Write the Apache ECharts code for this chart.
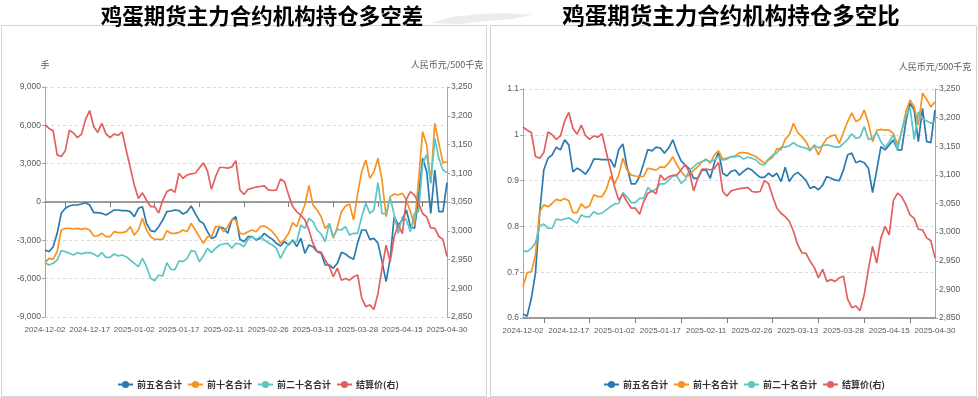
<!DOCTYPE html>
<html><head><meta charset="utf-8">
<script src="https://cdn.jsdelivr.net/npm/echarts@6/dist/echarts.min.js"></script>
<style>html,body{margin:0;padding:0;background:#fff}#c{width:978px;height:397px}</style>
</head><body><div id="c"></div>
<script>
const dates = [
'2024-12-02','2024-12-03','2024-12-04','2024-12-05','2024-12-06','2024-12-09','2024-12-10','2024-12-11','2024-12-12','2024-12-13',
'2024-12-16','2024-12-17','2024-12-18','2024-12-19','2024-12-20','2024-12-23','2024-12-24','2024-12-25','2024-12-26','2024-12-27',
'2024-12-30','2024-12-31','2025-01-02','2025-01-03','2025-01-06','2025-01-07','2025-01-08','2025-01-09','2025-01-10','2025-01-13',
'2025-01-14','2025-01-15','2025-01-16','2025-01-17','2025-01-20','2025-01-21','2025-01-22','2025-01-23','2025-01-24','2025-01-27',
'2025-02-05','2025-02-06','2025-02-07','2025-02-10','2025-02-11','2025-02-12','2025-02-13','2025-02-14','2025-02-17','2025-02-18',
'2025-02-19','2025-02-20','2025-02-21','2025-02-24','2025-02-25','2025-02-26','2025-02-27','2025-02-28','2025-03-03','2025-03-04',
'2025-03-05','2025-03-06','2025-03-07','2025-03-10','2025-03-11','2025-03-12','2025-03-13','2025-03-14','2025-03-17','2025-03-18',
'2025-03-19','2025-03-20','2025-03-21','2025-03-24','2025-03-25','2025-03-26','2025-03-27','2025-03-28','2025-03-31','2025-04-01',
'2025-04-02','2025-04-03','2025-04-07','2025-04-08','2025-04-09','2025-04-10','2025-04-11','2025-04-14','2025-04-15','2025-04-16',
'2025-04-17','2025-04-18','2025-04-21','2025-04-22','2025-04-23','2025-04-24','2025-04-25','2025-04-28','2025-04-29','2025-04-30'];

const seriesNames = ['前五名合计','前十名合计','前二十名合计','结算价(右)'];

// 结算价 (shared by both panels), 元/500千克
const settle = [3184,3178,3174,3132,3129,3139,3175,3170,3162,3168,3194,3209,3181,3171,3187,3169,3162,3168,3166,3172,
3140,3110,3079,3056,3066,3053,3042,3042,3031,3053,3068,3072,3067,3100,3091,3097,3099,3100,3109,3118,
3104,3072,3094,3110,3110,3109,3111,3122,3071,3063,3072,3074,3076,3077,3078,3071,3070,3071,3090,3085,
3062,3042,3033,3027,3019,3001,2978,2964,2963,2949,2938,2920,2935,2914,2917,2914,2920,2923,2883,2868,
2871,2863,2891,2935,2975,2946,2990,3010,2995,3055,3068,3062,3048,3030,3024,3005,3004,2990,2985,2955];

// 多空差 (手)
const netTop5 = [-3757,-3890,-3500,-2450,-885,-495,-313,-235,-235,-157,-60,-235,-834,-834,-885,-1017,-834,-626,-626,-678,
-678,-756,-1148,-495,-365,-1670,-2244,-2322,-1930,-1409,-756,-704,-626,-678,-939,-756,-313,-885,-1461,-1670,
-2322,-2844,-2713,-1930,-2061,-2452,-1409,-1148,-2922,-3105,-2713,-2713,-2974,-2844,-2452,-2713,-2922,-3235,-3443,-3105,
-3365,-2974,-3496,-2844,-4017,-3365,-3496,-3887,-4017,-4930,-4930,-5190,-4800,-3939,-4070,-4330,-4487,-3183,-2191,-2191,
-2922,-2844,-3235,-4670,-6235,-4409,-1148,-1800,-1409,-626,-1930,-2061,418,3417,2374,-885,2504,-756,-756,1513];
const netTop10 = [-4748,-4409,-4487,-3887,-2191,-2061,-2061,-2113,-2061,-2139,-2061,-2191,-2661,-2661,-2452,-2713,-2713,-2322,-2400,-2400,
-2322,-1930,-2583,-2191,-1278,-2191,-2713,-2922,-2922,-2922,-2244,-2452,-2450,-2380,-2191,-2322,-1670,-2191,-2713,-3235,
-2713,-2713,-1930,-1930,-2322,-1930,-1357,-1409,-2452,-2504,-2322,-2191,-2322,-1930,-1878,-2061,-2322,-2713,-3235,-2922,
-2452,-1617,-1930,-1017,-235,1300,-235,-626,-1148,-2061,-1722,-2844,-1930,-756,-313,-157,-1409,678,2374,3287,
1852,2374,3417,1722,-1148,418,626,548,678,157,-756,-1800,1722,5504,4461,1500,6157,4591,3079,3130];
const netTop20 = [-4748,-4930,-4800,-4539,-3809,-3887,-4017,-4148,-3965,-4070,-3965,-3965,-4070,-4278,-3965,-4330,-4330,-4070,-4226,-4148,
-4278,-4539,-4800,-5061,-4409,-5061,-5974,-6157,-5713,-5800,-4748,-5270,-5300,-4600,-4670,-4409,-3809,-3887,-4670,-4226,
-3626,-3965,-3626,-3365,-3287,-3235,-3626,-3235,-3287,-3496,-2922,-2713,-2922,-2713,-2974,-3183,-3365,-3626,-4409,-3757,
-3235,-3105,-3105,-1800,-2061,-1278,-1539,-2191,-2504,-3105,-1670,-2713,-2139,-2191,-1930,-2583,-2452,-2452,-1148,-104,
-885,-626,1513,-885,-939,365,-1017,-2452,-1148,-1409,-2322,-885,-756,3000,3730,1461,4983,3400,2504,2300];

// 多空比
const ratioTop5 = [0.609,0.604,0.643,0.698,0.829,0.923,0.949,0.956,0.973,0.967,0.989,0.978,0.919,0.927,0.922,0.914,0.927,0.947,0.947,0.946,
0.946,0.946,0.929,0.968,0.980,0.930,0.893,0.893,0.909,0.938,0.968,0.965,0.973,0.971,0.960,0.971,0.989,0.963,0.943,0.934,
0.925,0.905,0.905,0.923,0.923,0.905,0.939,0.963,0.916,0.910,0.920,0.923,0.912,0.920,0.927,0.923,0.914,0.907,0.907,0.916,
0.909,0.916,0.898,0.929,0.898,0.912,0.918,0.910,0.900,0.883,0.887,0.880,0.890,0.909,0.905,0.901,0.900,0.923,0.956,0.960,
0.939,0.943,0.939,0.927,0.874,0.923,0.974,0.967,0.978,0.989,0.967,0.967,1.029,1.069,1.054,0.985,1.058,0.985,0.983,1.054];
const ratioTop10 = [0.668,0.699,0.701,0.738,0.832,0.847,0.843,0.850,0.859,0.856,0.861,0.856,0.830,0.830,0.849,0.840,0.845,0.869,0.865,0.865,
0.880,0.909,0.893,0.912,0.949,0.923,0.912,0.910,0.909,0.909,0.927,0.925,0.923,0.930,0.929,0.938,0.952,0.934,0.920,0.909,
0.912,0.923,0.930,0.941,0.947,0.938,0.956,0.965,0.947,0.949,0.952,0.954,0.961,0.961,0.960,0.956,0.952,0.945,0.938,0.945,
0.951,0.970,0.967,0.990,1.000,1.025,1.005,0.996,0.985,0.967,0.976,0.956,0.978,0.992,0.997,1.000,0.981,1.005,1.029,1.048,
1.029,1.034,1.054,1.025,0.985,1.010,1.012,1.010,1.010,1.003,0.978,1.007,1.050,1.076,1.061,1.021,1.091,1.077,1.061,1.072];
const ratioTop20 = [0.747,0.745,0.752,0.764,0.801,0.805,0.796,0.796,0.816,0.814,0.816,0.819,0.813,0.807,0.825,0.821,0.821,0.832,0.827,0.829,
0.836,0.843,0.849,0.850,0.874,0.864,0.852,0.852,0.861,0.861,0.885,0.876,0.882,0.893,0.893,0.901,0.910,0.910,0.894,0.902,
0.923,0.930,0.938,0.941,0.945,0.941,0.945,0.952,0.945,0.947,0.952,0.952,0.954,0.947,0.951,0.949,0.945,0.936,0.934,0.947,
0.956,0.960,0.973,0.973,0.976,0.983,0.976,0.973,0.971,0.965,0.978,0.971,0.976,0.978,0.976,0.973,0.973,0.981,0.990,1.002,
0.992,0.995,1.018,0.990,0.992,1.005,0.985,0.973,0.985,1.000,0.967,1.010,1.040,1.060,0.990,1.050,1.035,1.030,1.025,1.030];

const colors = ['#2a7ab0','#f7931e','#5cc6c4','#e2605f'];
const latin = '"Liberation Sans",Arial,sans-serif';
const cjk = '"Noto Sans CJK SC",sans-serif';
const tickFn = function(i){ return i % 11 === 5; };

function xCat(grid, extra){
  return Object.assign({type:'category', gridIndex:grid, data:dates, boundaryGap:false,
    splitLine:{show:false}}, extra);
}
const labelStyle = {fontSize:8.5, color:'#595959', fontFamily:latin};
const xLabel = {interval:10, margin:9, showMinLabel:true, showMaxLabel:true, hideOverlap:false,
  fontSize:8, color:'#595959', fontFamily:latin};
function yVal(grid, pos, min, max, itv, split, name){
  return {type:'value', gridIndex:grid, position:pos, min:min, max:max, interval:itv,
    name:name||'', nameLocation:'end', nameGap:18,
    nameTextStyle:{fontSize:9, color:'#595959', fontFamily:cjk, padding:0},
    axisLine:{show:true, lineStyle:{color:'#a6a6a6', width:1}},
    axisTick:{show:true, length:3, lineStyle:{color:'#a6a6a6'}},
    axisLabel:Object.assign({margin:4}, labelStyle),
    splitLine:{show:split, lineStyle:{color:'#d9d9d9', type:[3,3]}}};
}
function line(name, x, y, data, c){
  return {name:name, type:'line', xAxisIndex:x, yAxisIndex:y, data:data, symbol:'circle', symbolSize:8,
    showSymbol:false, smooth:false, lineStyle:{width:1.7, color:c}, itemStyle:{color:c}, emphasis:{disabled:true}};
}
const legendBase = {orient:'horizontal', itemWidth:15, itemHeight:9, itemGap:5,
  textStyle:{fontSize:9, color:'#333', fontWeight:'bold', fontFamily:cjk, padding:[0,0,0,-1]}, data:seriesNames, top:375};

const option = {
  animation:false,
  backgroundColor:'#ffffff',
  title:[
    {text:'鸡蛋期货主力合约机构持仓多空差', left:257, top:0, textAlign:'center',
      textStyle:{fontSize:21.5, fontWeight:'bold', color:'#000', fontFamily:cjk}},
    {text:'鸡蛋期货主力合约机构持仓多空比', left:726, top:-1, textAlign:'center',
      textStyle:{fontSize:22.5, fontWeight:'bold', color:'#000', fontFamily:cjk}}
  ],
  graphic:[
    {type:'polygon', shape:{points:[[430,23],[452,17],[480,14],[505,13],[532,15],[512,19],[486,21],[462,24]]},
      style:{fill:'#ececec'}, z:-1},
    {type:'rect', shape:{x:1.5, y:25.5, width:485, height:371}, style:{fill:'none', stroke:'#d4d4d4', lineWidth:1}},
    {type:'rect', shape:{x:490.5, y:25.5, width:486, height:371}, style:{fill:'none', stroke:'#d4d4d4', lineWidth:1}}
  ],
  legend:[
    Object.assign({left:112}, legendBase),
    Object.assign({left:598}, legendBase)
  ],
  grid:[
    {left:45, top:87, width:402, height:230, containLabel:false},
    {left:523, top:89, width:412, height:229, containLabel:false}
  ],
  xAxis:[
    xCat(0, {axisLine:{onZero:true, lineStyle:{color:'#7f7f7f', width:1.5}},
      axisTick:{show:true, interval:tickFn, length:5, lineStyle:{color:'#7f7f7f'}}, axisLabel:{show:false}}),
    xCat(0, {position:'bottom', axisLine:{show:false, onZero:false}, axisTick:{show:false}, axisLabel:xLabel}),
    xCat(1, {axisLine:{onZero:false, lineStyle:{color:'#7f7f7f', width:1.5}},
      axisTick:{show:true, interval:tickFn, length:5, lineStyle:{color:'#7f7f7f'}}, axisLabel:xLabel})
  ],
  yAxis:[
    yVal(0,'left',-9000,9000,3000,true,'手'),
    yVal(0,'right',2850,3250,50,false,'人民币元/500千克'),
    yVal(1,'left',0.6,1.1,0.1,true,''),
    yVal(1,'right',2850,3250,50,false,'人民币元/500千克')
  ],
  series:[
    line(seriesNames[0],0,0,netTop5,colors[0]),
    line(seriesNames[1],0,0,netTop10,colors[1]),
    line(seriesNames[2],0,0,netTop20,colors[2]),
    line(seriesNames[3],0,1,settle,colors[3]),
    line(seriesNames[0],2,2,ratioTop5,colors[0]),
    line(seriesNames[1],2,2,ratioTop10,colors[1]),
    line(seriesNames[2],2,2,ratioTop20,colors[2]),
    line(seriesNames[3],2,3,settle,colors[3])
  ]
};
const chart = echarts.init(document.getElementById('c'), null, {renderer:'canvas'});
chart.setOption(option);
</script></body></html>
